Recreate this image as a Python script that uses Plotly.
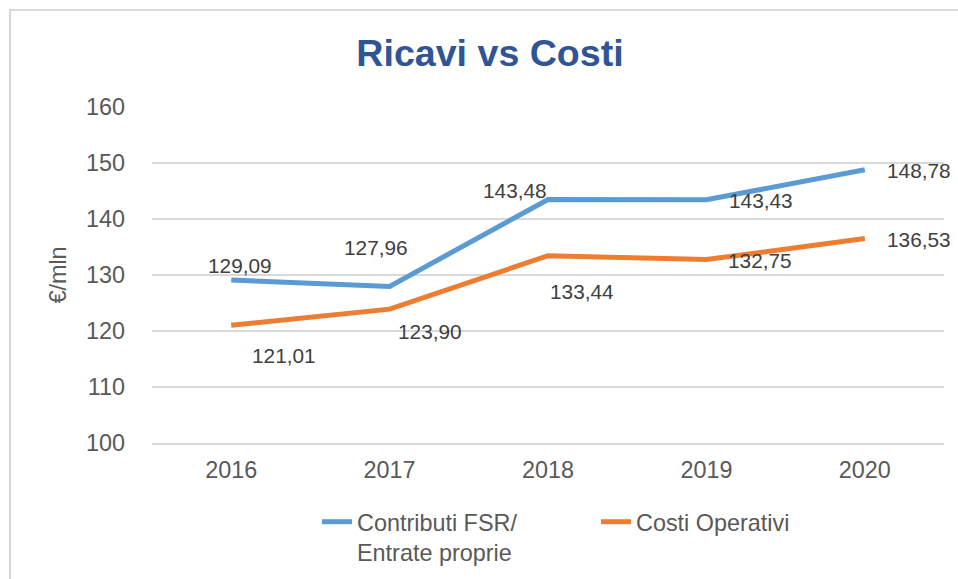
import plotly.graph_objects as go

years = ["2016", "2017", "2018", "2019", "2020"]
contributi = [129.09, 127.96, 143.48, 143.43, 148.78]
costi = [121.01, 123.90, 133.44, 132.75, 136.53]
series_names = ["Contributi FSR/<br>Entrate proprie", "Costi Operativi"]
y_ticks = [100, 110, 120, 130, 140, 150, 160]

# label offsets (pixels) relative to each point
contributi_off = [(9, 15), (-14, 39), (-33, 9), (55, -1), (54, -1)]
costi_off = [(53, -30), (40, -22), (34, -36), (54, -1), (54, -1)]

BLUE = "#5B9BD5"
ORANGE = "#ED7D31"
GRID = "#D9D9D9"
TXT = "#595959"
LBL = "#404040"
FONT = "Liberation Sans, Arial, sans-serif"

W, H = 958, 579
ML, MR, MT, MB = 152, 14, 107, 136
PW, PH = W - ML - MR, H - MT - MB

def fmt(v):
    return f"{v:.2f}".replace(".", ",")

fig = go.Figure()
fig.add_trace(go.Scatter(x=years, y=contributi, mode="lines", name=series_names[0],
                         line=dict(color=BLUE, width=5)))
fig.add_trace(go.Scatter(x=years, y=costi, mode="lines", name=series_names[1],
                         line=dict(color=ORANGE, width=5)))

ann = []
for vals, offs in ((contributi, contributi_off), (costi, costi_off)):
    for i, (v, (dx, dy)) in enumerate(zip(vals, offs)):
        # category axis: annotation x is the category index
        ann.append(dict(x=i, y=v, text=fmt(v), showarrow=False, xshift=dx, yshift=dy,
                        font=dict(family=FONT, size=20.8, color=LBL)))

def px2paper_x(px):
    return (px - ML) / PW

def px2paper_y(py):
    return (H - MB - py) / PH

border = dict(type="path", xref="paper", yref="paper",
              path=f"M {px2paper_x(10)} {px2paper_y(620)} L {px2paper_x(10)} {px2paper_y(10)} L {px2paper_x(1000)} {px2paper_y(10)}",
              line=dict(color=GRID, width=2))

fig.update_layout(
    width=W, height=H,
    margin=dict(l=ML, r=MR, t=MT, b=MB, autoexpand=False),
    paper_bgcolor="white", plot_bgcolor="white",
    font=dict(family=FONT, size=23.4, color=TXT),
    title=dict(text="<b>Ricavi vs Costi</b>", x=490 / W, xref="container", xanchor="center",
               y=1 - 53 / H, yref="container", yanchor="middle",
               font=dict(family=FONT, size=37.6, color="#2F5597")),
    xaxis=dict(type="category", range=[-0.5, len(years) - 0.5], autorange=False,
               showgrid=False, showline=True, linecolor=GRID, linewidth=1.5, automargin=False,
               ticks="", ticklabelstandoff=5, tickfont=dict(size=23.4, color=TXT)),
    yaxis=dict(range=[100, 160], tickvals=y_ticks, showgrid=True, gridcolor=GRID, gridwidth=1.5,
               zeroline=False, showline=False, ticks="", ticklabelstandoff=26, automargin=False,
               tickfont=dict(size=23.4, color=TXT),
               title=dict(text="€/mln", standoff=12, font=dict(size=23.4, color=TXT))),
    legend=dict(orientation="h", x=px2paper_x(317), xanchor="left", y=px2paper_y(500), yanchor="top",
                valign="top", entrywidth=234, entrywidthmode="pixels",
                font=dict(size=23.4, color=TXT), bgcolor="rgba(0,0,0,0)"),
    annotations=ann,
    shapes=[border],
)

fig.write_html("out.html", config={"displayModeBar": False},
               post_script="document.body.style.margin='0';")
